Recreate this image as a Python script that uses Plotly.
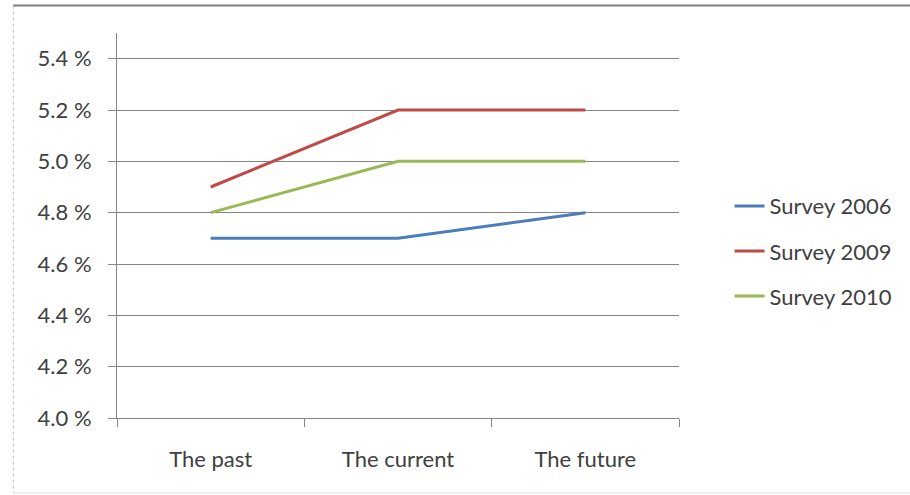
import plotly.graph_objects as go

# Survey results by time horizon (values in percent)
categories = ["The past", "The current", "The future"]
survey_2006 = [4.7, 4.7, 4.8]
survey_2009 = [4.9, 5.2, 5.2]
survey_2010 = [4.8, 5.0, 5.0]

series_names = ["Survey 2006", "Survey 2009", "Survey 2010"]
series_values = [survey_2006, survey_2009, survey_2010]
series_colors = ["#4A7EBB", "#BE4B48", "#98B954"]

y_ticks = [4.0, 4.2, 4.4, 4.6, 4.8, 5.0, 5.2, 5.4]
y_tick_labels = ["4.0 %", "4.2 %", "4.4 %", "4.6 %", "4.8 %", "5.0 %", "5.2 %", "5.4 %"]

FONT = "Lato, 'Open Sans', sans-serif"
TEXT_COLOR = "#404040"
AXIS_COLOR = "#868686"

fig = go.Figure()
for i, (name, vals, col) in enumerate(zip(series_names, series_values, series_colors)):
    fig.add_trace(go.Scatter(
        x=categories, y=vals, name=name, mode="lines",
        line=dict(color=col, width=3),
        legendgroup=f"g{i}",
    ))

fig.update_layout(
    width=910, height=495,
    margin=dict(l=117, r=229, t=33, b=77),
    paper_bgcolor="white", plot_bgcolor="white",
    font=dict(family=FONT, size=22, color=TEXT_COLOR),
    showlegend=True,
    legend=dict(
        x=1.09, y=0.605, xanchor="left", yanchor="top",
        font=dict(family=FONT, size=22, color=TEXT_COLOR),
        tracegroupgap=13.5, itemwidth=30,
        bgcolor="rgba(0,0,0,0)",
    ),
)

fig.update_xaxes(
    type="category", tickson="boundaries",
    showline=True, linecolor=AXIS_COLOR, linewidth=1,
    ticks="outside", ticklen=8, tickcolor=AXIS_COLOR,
    showgrid=False, zeroline=False,
    ticklabelstandoff=22,
    range=[-0.5, 2.5],
)
fig.update_yaxes(
    range=[4.0, 5.5],
    tickvals=y_ticks, ticktext=y_tick_labels,
    showline=True, linecolor=AXIS_COLOR, linewidth=1,
    ticks="outside", ticklen=8, tickcolor=AXIS_COLOR,
    showgrid=True, gridcolor=AXIS_COLOR, gridwidth=1,
    zeroline=False,
    ticklabelstandoff=12,
)

# Chart frame around the figure
fig.add_shape(type="line", xref="paper", yref="paper",
              x0=-0.185, x1=1.45, y0=1.0712, y1=1.0712,
              line=dict(color="#7F7F7F", width=2))
fig.add_shape(type="line", xref="paper", yref="paper",
              x0=-0.1844, x1=-0.1844, y0=1.0712, y1=-0.195,
              line=dict(color="#BFBFBF", width=1, dash="dot"))
fig.add_shape(type="line", xref="paper", yref="paper",
              x0=-0.1844, x1=1.45, y0=-0.195, y1=-0.195,
              line=dict(color="#E0E0E0", width=1))

fig.write_html("out.html")
